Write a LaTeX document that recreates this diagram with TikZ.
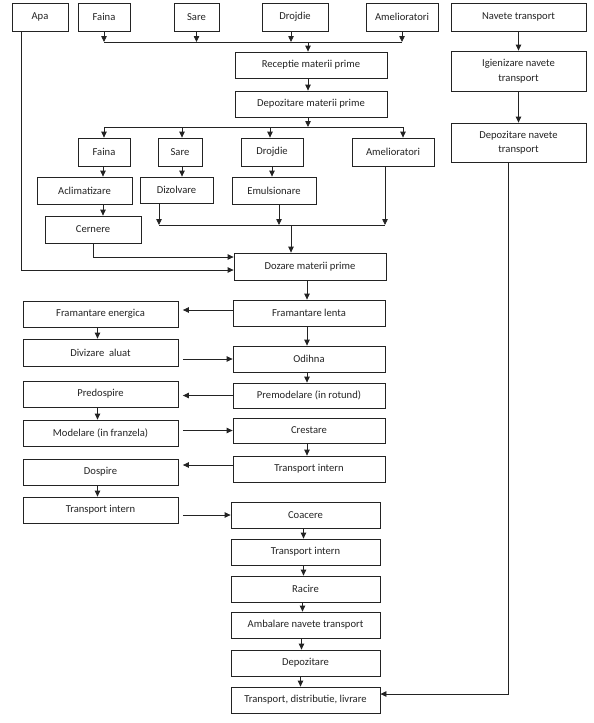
\documentclass[tikz,border=0pt]{standalone}
\usepackage{fontspec}
\setmainfont{Carlito}
\usetikzlibrary{arrows.meta,calc}
\definecolor{ink}{RGB}{35,35,35}
\begin{document}
\begin{tikzpicture}[x=1pt,y=-1pt,
  box/.style={draw=ink,line width=0.8pt,text=ink,font=\fontsize{10.6}{12.5}\selectfont,
    inner sep=0pt,align=center,minimum height=#1},
  box/.default=26pt,
  ln/.style={draw=ink,line width=0.8pt},
  ar/.style={ln,-{Triangle[length=6pt,width=5.5pt]}}]
\useasboundingbox (0,0) rectangle (594,723);
% top row
\node[box=28pt,minimum width=56pt] (Apa) at (40,17) {Apa};
\node[box=28pt,minimum width=52pt] (Faina) at (104,17) {Faina};
\node[box=28pt,minimum width=45pt] (Sare) at (196.5,17) {Sare};
\node[box=28pt,minimum width=66pt] (Drojdie) at (295,17) {Drojdie};
\node[box=28pt,minimum width=72pt] (Amel) at (402,17) {Amelioratori};
\node[box=28pt,minimum width=135pt] (Navete) at (518.5,17) {Navete transport};
\node[box=26pt,minimum width=152pt] (Receptie) at (311,65) {Receptie materii prime};
\node[box=26pt,minimum width=152pt] (DepMP) at (311,104) {Depozitare materii prime};
\node[box=40pt,minimum width=135pt] (Igien) at (518.5,71) {Igienizare navete\\[2pt]transport};
\node[box=39pt,minimum width=135pt] (DepNav) at (518.5,142.5) {Depozitare navete\\[2pt]transport};
% second row
\node[box=28pt,minimum width=52pt] (Faina2) at (104,152) {Faina};
\node[box=28pt,minimum width=44pt] (Sare2) at (180,152) {Sare};
\node[box=28pt,minimum width=62pt] (Drojdie2) at (272,152) {Drojdie};
\node[box=28pt,minimum width=82pt] (Amel2) at (393,152) {Amelioratori};
\node[box=27pt,minimum width=95pt] (Aclim) at (84.5,190.5) {Aclimatizare};
\node[box=26pt,minimum width=73pt] (Dizol) at (176.5,190) {Dizolvare};
\node[box=27pt,minimum width=84pt] (Emuls) at (274,190.5) {Emulsionare};
\node[box=27pt,minimum width=96pt] (Cernere) at (93,229.5) {Cernere};
\node[box=27pt,minimum width=152pt] (Dozare) at (310,266.5) {Dozare materii prime};
% right column
\node[box,minimum width=152pt] (FrLenta) at (309,313) {Framantare lenta};
\node[box,minimum width=152pt] (Odihna) at (309,359) {Odihna};
\node[box=25pt,minimum width=152pt] (Premod) at (309,395.5) {Premodelare (in rotund)};
\node[box=25pt,minimum width=152pt] (Crest) at (309,430.5) {Crestare};
\node[box,minimum width=152pt] (TIr) at (309,469) {Transport intern};
\node[box,minimum width=149pt] (Coacere) at (305.5,515) {Coacere};
\node[box,minimum width=149pt] (TI2) at (305.5,552) {Transport intern};
\node[box,minimum width=149pt] (Racire) at (305.5,589) {Racire};
\node[box,minimum width=149pt] (Ambal) at (305.5,625) {Ambalare navete transport};
\node[box,minimum width=149pt] (Depoz) at (305.5,663) {Depozitare};
\node[box,minimum width=149pt] (TDL) at (305.5,700) {Transport, distributie, livrare};
% left column
\node[box,minimum width=155pt] (FrEn) at (100.5,314) {Framantare energica};
\node[box=27pt,minimum width=155pt] (Diviz) at (100.5,352.5) {Divizare\ \ aluat};
\node[box,minimum width=155pt] (Predos) at (100.5,394) {Predospire};
\node[box,minimum width=155pt] (Model) at (100.5,433) {Modelare (in franzela)};
\node[box,minimum width=155pt] (Dosp) at (100.5,472) {Dospire};
\node[box,minimum width=155pt] (TIl) at (100.5,510) {Transport intern};
% bus coordinates
\coordinate (b1) at (0,42);
\coordinate (b2) at (0,127);
\coordinate (b3) at (0,225);
% top inputs
\foreach \n in {Faina,Sare,Amel} \draw[ar] (\n.south) -- (\n.south |- b1);
\draw[ar] ([xshift=-4pt]Drojdie.south) -- ([xshift=-4pt]Drojdie.south |- b1);
\draw[ln] (Faina.south |- b1) -- (Amel.south |- b1);
\draw[ar] ([xshift=-3pt]Receptie.north |- b1) -- ([xshift=-3pt]Receptie.north);
\draw[ar] ([xshift=-3pt]Receptie.south) -- ([xshift=-3pt]DepMP.north);
\draw[ar] ([xshift=-3pt]DepMP.south) -- ([xshift=-3pt]DepMP.south |- b2);
\draw[ln] (Faina2.north |- b2) -- ([xshift=10pt]Amel2.north |- b2);
\draw[ar] (Faina2.north |- b2) -- (Faina2.north);
\draw[ar] ([xshift=2pt]Sare2.north |- b2) -- ([xshift=2pt]Sare2.north);
\draw[ar] ([xshift=-2pt]Drojdie2.north |- b2) -- ([xshift=-2pt]Drojdie2.north);
\draw[ar] ([xshift=10pt]Amel2.north |- b2) -- ([xshift=10pt]Amel2.north);
% preparation
\draw[ar] ([xshift=-1pt]Faina2.south) -- ([xshift=18.5pt]Aclim.north);
\draw[ar] ([xshift=18.5pt]Aclim.south) -- ([xshift=10pt]Cernere.north);
\draw[ar] ([xshift=2pt]Sare2.south) -- ([xshift=5.5pt]Dizol.north);
\draw[ar] (Drojdie2.south) -- ([xshift=-2pt]Emuls.north);
\draw[ar] ([xshift=-17.5pt]Dizol.south) -- ([xshift=-17.5pt]Dizol.south |- b3);
\draw[ar] ([xshift=5pt]Emuls.south) -- ([xshift=5pt]Emuls.south |- b3);
\draw[ar] ([xshift=-8pt]Amel2.south) -- ([xshift=-8pt]Amel2.south |- b3);
\draw[ln] ([xshift=-17.5pt]Dizol.south |- b3) -- ([xshift=-8pt]Amel2.south |- b3);
\draw[ar] ([xshift=-19pt]Dozare.north |- b3) -- ([xshift=-19pt]Dozare.north);
\draw[ar] (Cernere.south) |- ([yshift=9.5pt]Dozare.west);
\draw[ar] ([xshift=-19pt]Apa.south) |- ([yshift=-3.5pt]Dozare.west);
% navete
\draw[ar] (Navete.south) -- (Igien.north);
\draw[ar] (Igien.south) -- (DepNav.north);
\draw[ar] ([xshift=-10.5pt]DepNav.south) |- ([yshift=6pt]TDL.east);
% main flow
\draw[ar] ([xshift=-3pt]Dozare.south) -- ([xshift=-2pt]FrLenta.north);
\draw[ar,shorten >=4.5pt] ([yshift=3pt]FrLenta.west) -- ([yshift=3pt]FrLenta.west -| FrEn.east);
\draw[ar] ([xshift=-3pt]FrEn.south) -- ([xshift=-3pt]Diviz.north);
\draw[ar,shorten <=4.5pt] (Diviz.east |- Odihna.west) -- (Odihna.west);
\draw[ar] ([xshift=-2pt]FrLenta.south) -- ([xshift=-2pt]Odihna.north);
\draw[ar] ([xshift=-2pt]Odihna.south) -- ([xshift=-2pt]Premod.north);
\draw[ar,shorten >=4.5pt] (Premod.west) -- (Premod.west -| Predos.east);
\draw[ar] ([xshift=-3pt]Predos.south) -- ([xshift=-3pt]Model.north);
\draw[ar,shorten <=4.5pt] (Model.east |- Crest.west) -- (Crest.west);
\draw[ar] ([xshift=-2pt]Crest.south) -- ([xshift=-2pt]TIr.north);
\draw[ar,shorten >=4.5pt] ([yshift=4pt]TIr.west) -- ([yshift=4pt]TIr.west -| Dosp.east);
\draw[ar] ([xshift=-3pt]Dosp.south) -- ([xshift=-3pt]TIl.north);
\draw[ar,shorten <=4.5pt] (TIl.east |- Coacere.west) -- (Coacere.west);
\draw[ar] ([xshift=-2pt]Coacere.south) -- ([xshift=-2pt]TI2.north);
\draw[ar] ([xshift=-2pt]TI2.south) -- ([xshift=-2pt]Racire.north);
\draw[ar] ([xshift=-3pt]Racire.south) -- ([xshift=-3pt]Ambal.north);
\draw[ar] ([xshift=-4pt]Ambal.south) -- ([xshift=-4pt]Depoz.north);
\draw[ar] ([xshift=-5pt]Depoz.south) -- ([xshift=-5pt]TDL.north);
\end{tikzpicture}
\end{document}
